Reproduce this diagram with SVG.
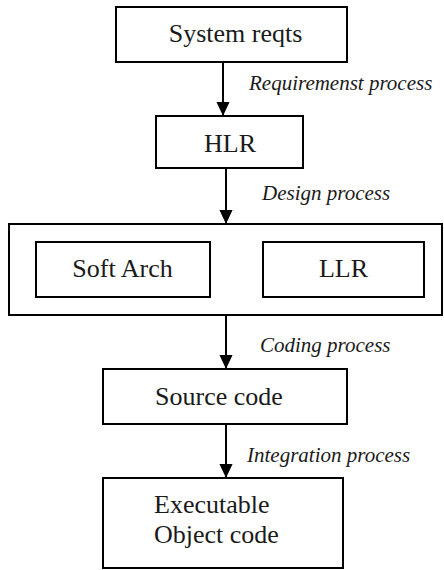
<svg xmlns="http://www.w3.org/2000/svg" width="444" height="570" viewBox="0 0 444 570">
<defs>
<style>
.box{fill:#fff;stroke:#000;stroke-width:2}
.t{font-family:"Liberation Serif","Times New Roman",serif;font-size:26px;fill:#1a1a1a}
.l{font-family:"Liberation Serif","Times New Roman",serif;font-size:21px;font-style:italic;fill:#1a1a1a}
.c{stroke:#000;stroke-width:2;fill:none}
</style>
<marker id="ah" markerWidth="14" markerHeight="15" refX="15" refY="7" orient="auto" markerUnits="userSpaceOnUse" viewBox="0 0 15 14">
<path d="M0,0 L15,7 L0,14 Z" fill="#000"/>
</marker>
</defs>
<rect width="444" height="570" fill="#fff"/>
<g id="connectors">
<line class="c" x1="223" y1="62" x2="223" y2="116" marker-end="url(#ah)"/>
<line class="c" x1="226" y1="168" x2="226" y2="224" marker-end="url(#ah)"/>
<line class="c" x1="226" y1="315" x2="226" y2="369" marker-end="url(#ah)"/>
<line class="c" x1="226" y1="424" x2="226" y2="478" marker-end="url(#ah)"/>
<text class="l" x="249" y="90">Requiremenst process</text>
<text class="l" x="262" y="200">Design process</text>
<text class="l" x="260" y="352">Coding process</text>
<text class="l" x="247" y="462">Integration process</text>
</g>
<g id="system-reqts">
<rect class="box" x="116" y="7" width="231" height="55"/>
<text class="t" x="235.5" y="42" text-anchor="middle">System reqts</text>
</g>
<g id="hlr">
<rect class="box" x="156" y="116" width="147" height="52"/>
<text class="t" x="230" y="152" text-anchor="middle">HLR</text>
</g>
<g id="design-group">
<rect class="box" x="9" y="224" width="433" height="91"/>
</g>
<g id="soft-arch">
<rect class="box" x="36" y="242" width="174" height="55"/>
<text class="t" x="122.5" y="277" text-anchor="middle">Soft Arch</text>
</g>
<g id="llr">
<rect class="box" x="263" y="242" width="161" height="55"/>
<text class="t" x="343.5" y="277" text-anchor="middle">LLR</text>
</g>
<g id="source-code">
<rect class="box" x="103" y="369" width="244" height="55"/>
<text class="t" x="219" y="405" text-anchor="middle">Source code</text>
</g>
<g id="executable">
<rect class="box" x="103" y="478" width="240" height="90"/>
<text class="t" x="154" y="513">Executable</text>
<text class="t" x="154" y="543">Object code</text>
</g>
</svg>
